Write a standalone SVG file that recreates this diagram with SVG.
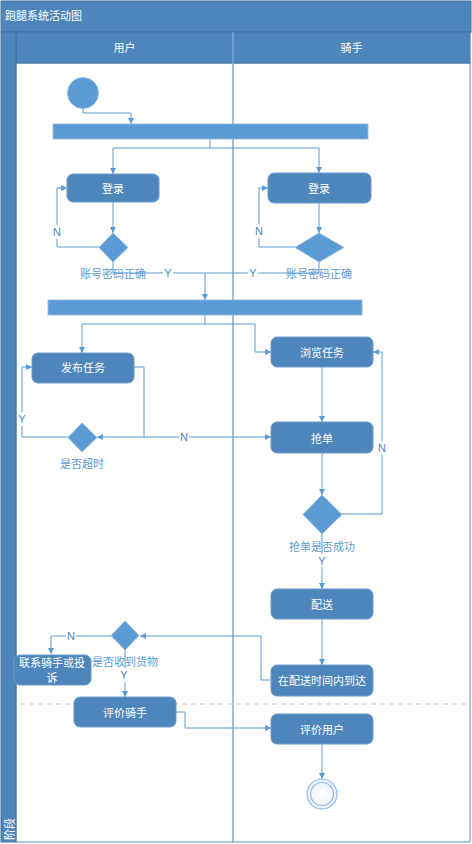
<svg xmlns="http://www.w3.org/2000/svg" width="472" height="844" viewBox="0 0 472 844">
<defs>
<style>
.pool{fill:#4e86bb;stroke:#41729f;stroke-width:1}
.ttl{font-family:"Noto Sans CJK SC","Noto Sans",sans-serif;font-size:11px;fill:#ffffff}
.box{fill:#4e86bb;stroke:#6a9ccc;stroke-width:1}
.bt{font-family:"Noto Sans CJK SC","Noto Sans",sans-serif;font-size:11px;fill:#ffffff;text-anchor:middle;dominant-baseline:central}
.lbl{font-family:"Noto Sans CJK SC","Noto Sans",sans-serif;font-size:11px;fill:#5b9bd5;text-anchor:middle;dominant-baseline:central}
.yn{font-family:"Liberation Sans",Arial,sans-serif;font-size:11px;fill:#4a86c0;text-anchor:middle;dominant-baseline:central}
.bar{fill:#5b9bd5;stroke:#8db8e0;stroke-width:0.8}
.dia{fill:#5b9bd5;stroke:#8db8e0;stroke-width:0.8}
.c{fill:none;stroke:#5b9bd5;stroke-width:1}
.bg{fill:#ffffff}
</style>
<marker id="ar" viewBox="0 0 10 10" refX="10" refY="5" markerWidth="6" markerHeight="6" markerUnits="userSpaceOnUse" orient="auto">
<path d="M0,0 L10,5 L0,10 z" fill="#5b9bd5"/>
</marker>
<radialGradient id="endg" cx="0.5" cy="0.5" r="0.5">
<stop offset="0" stop-color="#ffffff"/>
<stop offset="1" stop-color="#e8eef6"/>
</radialGradient>
</defs>
<rect x="0" y="0" width="472" height="844" fill="#ffffff"/>
<g id="pool">
<rect class="pool" x="1" y="1" width="470" height="31"/>
<text class="ttl" x="5" y="20">跑腿系统活动图</text>
<rect x="16" y="63" width="454" height="779" fill="#ffffff" stroke="#8fb3d8" stroke-width="1.5"/>
<rect class="pool" x="16" y="32" width="454" height="31"/>
<rect class="pool" x="1" y="32" width="15" height="810"/>
<line x1="233" y1="32" x2="233" y2="842" stroke="#7ea6cf" stroke-width="1.5"/>
<text class="bt" x="124.5" y="47">用户</text>
<text class="bt" x="351.5" y="47">骑手</text>
<text class="bt" transform="translate(8.5,829) rotate(-90)" x="0" y="0">阶段</text>
<line x1="20" y1="704" x2="470" y2="704" stroke="#c3c3c3" stroke-width="1" stroke-dasharray="5,4"/>
</g>
<g id="connectors">
<path class="c" d="M83,108 V113 H131 V124" marker-end="url(#ar)"/>
<path class="c" d="M210,139 V148 H113 V174" marker-end="url(#ar)"/>
<path class="c" d="M210,148 H319 V173" marker-end="url(#ar)"/>
<path class="c" d="M113,202 V233" marker-end="url(#ar)"/>
<path class="c" d="M319,203 V233" marker-end="url(#ar)"/>
<path class="c" d="M99,247 H57 V188 H67" marker-end="url(#ar)"/>
<path class="c" d="M295,247 H259 V188 H268" marker-end="url(#ar)"/>
<path class="c" d="M113,262 V273 H205"/>
<path class="c" d="M319,262 V273 H205 V300" marker-end="url(#ar)"/>
<path class="c" d="M205,315 V324 H82 V353" marker-end="url(#ar)"/>
<path class="c" d="M205,324 H255 V352 H271" marker-end="url(#ar)"/>
<path class="c" d="M134,367 H144 V437 H97" marker-end="url(#ar)"/>
<path class="c" d="M144,437 H271" marker-end="url(#ar)"/>
<path class="c" d="M68,437 H22 V367 H32" marker-end="url(#ar)"/>
<path class="c" d="M322,367 V422" marker-end="url(#ar)"/>
<path class="c" d="M322,453 V495" marker-end="url(#ar)"/>
<path class="c" d="M342,514 H382 V352 H373" marker-end="url(#ar)"/>
<path class="c" d="M322,534 V589" marker-end="url(#ar)"/>
<path class="c" d="M322,619 V665" marker-end="url(#ar)"/>
<path class="c" d="M271,680 H261 V636 H140" marker-end="url(#ar)"/>
<path class="c" d="M111,636 H51 V654" marker-end="url(#ar)"/>
<path class="c" d="M125,650 V697" marker-end="url(#ar)"/>
<path class="c" d="M176,712 H185 V728 H271" marker-end="url(#ar)"/>
<path class="c" d="M322,744 V779" marker-end="url(#ar)"/>
<rect class="bg" x="52" y="225" width="10" height="14"/>
<text class="yn" x="57" y="232">N</text>
<rect class="bg" x="254" y="224" width="10" height="14"/>
<text class="yn" x="259" y="231">N</text>
<rect class="bg" x="163" y="266" width="10" height="14"/>
<text class="yn" x="168" y="273">Y</text>
<rect class="bg" x="248" y="266" width="10" height="14"/>
<text class="yn" x="253" y="273">Y</text>
<rect class="bg" x="17" y="412" width="10" height="14"/>
<text class="yn" x="22" y="419">Y</text>
<rect class="bg" x="179" y="430" width="10" height="14"/>
<text class="yn" x="184" y="437">N</text>
<rect class="bg" x="377" y="441" width="10" height="14"/>
<text class="yn" x="382" y="448">N</text>
<text class="lbl" x="322" y="546">抢单是否成功</text>
<rect class="bg" x="317" y="554" width="10" height="13"/>
<text class="yn" x="322" y="561">Y</text>
<rect class="bg" x="66" y="629" width="10" height="14"/>
<text class="yn" x="71" y="636">N</text>
<text class="lbl" x="125" y="661">是否收到货物</text>
<rect class="bg" x="119" y="668" width="10" height="14"/>
<text class="yn" x="124" y="675">Y</text>
</g>
<g id="start"><circle cx="83" cy="93" r="15.5" fill="#5b9bd5" stroke="#8db8e0" stroke-width="0.8"/></g>
<g id="fork1"><rect class="bar" x="53" y="124" width="315" height="15"/></g>
<g id="login-user"><rect class="box" x="67" y="174" width="92" height="28" rx="6"/><text class="bt" x="113" y="188">登录</text></g>
<g id="login-rider"><rect class="box" x="268" y="173" width="103" height="30" rx="6"/><text class="bt" x="319" y="188">登录</text></g>
<g id="check-user"><path class="dia" d="M113,233 L128,247.5 L113,262 L99,247.5 Z"/><text class="lbl" x="113" y="273">账号密码正确</text></g>
<g id="check-rider"><path class="dia" d="M319,233 L344,247.5 L319,262 L295,247.5 Z"/><text class="lbl" x="319" y="273">账号密码正确</text></g>
<g id="fork2"><rect class="bar" x="48" y="300" width="314" height="15"/></g>
<g id="publish"><rect class="box" x="32" y="353" width="102" height="30" rx="6"/><text class="bt" x="83" y="367">发布任务</text></g>
<g id="browse"><rect class="box" x="271" y="337" width="102" height="30" rx="6"/><text class="bt" x="322" y="352">浏览任务</text></g>
<g id="timeout"><path class="dia" d="M82,423 L97,437.5 L82,452 L68,437.5 Z"/><text class="lbl" x="82" y="463">是否超时</text></g>
<g id="grab"><rect class="box" x="271" y="422" width="102" height="31" rx="6"/><text class="bt" x="322" y="438">抢单</text></g>
<g id="grab-ok"><path class="dia" d="M322,495 L342,514.5 L322,534 L303,514.5 Z"/></g>
<g id="deliver"><rect class="box" x="271" y="589" width="102" height="30" rx="6"/><text class="bt" x="322" y="604">配送</text></g>
<g id="arrive"><rect class="box" x="271" y="665" width="102" height="31" rx="6"/><text class="bt" x="322" y="680">在配送时间内到达</text></g>
<g id="received"><path class="dia" d="M125,621 L139,635.5 L125,650 L111,635.5 Z"/></g>
<g id="complain"><rect class="box" x="14" y="655" width="77" height="30" rx="6"/><text class="bt" x="52" y="662">联系骑手或投</text><text class="bt" x="52" y="677">诉</text></g>
<g id="rate-rider"><rect class="box" x="74" y="697" width="102" height="30" rx="6"/><text class="bt" x="125" y="712">评价骑手</text></g>
<g id="rate-user"><rect class="box" x="271" y="714" width="102" height="30" rx="6"/><text class="bt" x="322" y="729">评价用户</text></g>
<g id="end"><circle cx="322" cy="794" r="15" fill="url(#endg)" stroke="#8fbde6" stroke-width="1.2"/><circle cx="322" cy="794" r="11.5" fill="none" stroke="#8fbde6" stroke-width="1.2"/></g>
</svg>
